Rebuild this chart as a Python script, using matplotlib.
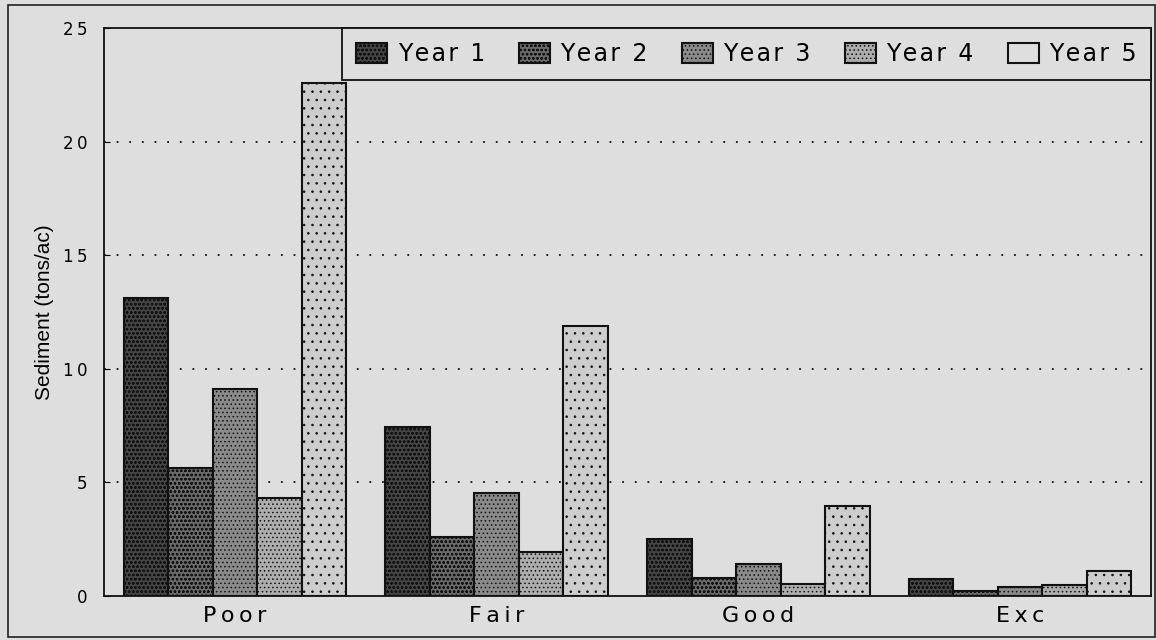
import matplotlib
matplotlib.use("Agg")
import matplotlib.pyplot as plt
import numpy as np
from matplotlib.patches import Rectangle

categories = ["Poor", "Fair", "Good", "Exc"]
series_names = ["Year 1", "Year 2", "Year 3", "Year 4", "Year 5"]
year1 = [13.1, 7.45, 2.5, 0.75]
year2 = [5.65, 2.6, 0.8, 0.2]
year3 = [9.1, 4.55, 1.4, 0.4]
year4 = [4.3, 1.95, 0.55, 0.5]
year5 = [22.6, 11.9, 3.95, 1.1]
series = [year1, year2, year3, year4, year5]
yticks = [0, 5, 10, 15, 20, 25]

faces = ["#454545", "#6a6a6a", "#8a8a8a", "#adadad", "#cdcdcd"]
hatches = ["oooo", "oooo", "....", "....", ".."]
bg = "#dedede"
TS = "\u2009"
HS = "\u200a"

plt.rcParams['hatch.color'] = '#e0e0e0'
plt.rcParams['hatch.linewidth'] = 0.6

fig = plt.figure(figsize=(11.56, 6.4), dpi=100, facecolor=bg)
ax = fig.add_axes([104/1156, 1 - 596/640, (1151-104)/1156, (596-28)/640])
ax.set_facecolor(bg)

x = np.arange(len(categories))
w = 0.17
for i, (vals, name) in enumerate(zip(series, series_names)):
    ax.bar(x + (i - 2) * w, vals, width=w, color=faces[i], edgecolor="#111111",
           linewidth=1.5, hatch=hatches[i], label=HS.join(name), zorder=3)

ax.set_xlim(-0.5, 3.5)
ax.set_ylim(0, 25)
ax.set_yticks(yticks)
ax.set_yticklabels([TS.join(str(t)) for t in yticks], fontsize=12)
ax.set_xticks(x)
ax.set_xticklabels([TS.join(c) for c in categories], fontsize=16)
ax.tick_params(axis='x', length=0, pad=7)
ax.tick_params(axis='y', direction='in', length=4, pad=12)
for yv in yticks[1:-1]:
    ax.axhline(yv, color="#111111", linestyle=(0, (1, 6)), linewidth=1.3, zorder=1)
for s in ax.spines.values():
    s.set_color("#111111")
    s.set_linewidth(1.3)
ax.set_ylabel("Sediment (tons/ac)", fontsize=15, family="Liberation Sans",
              labelpad=6)

leg = ax.legend(loc="upper right", ncol=5, fontsize=17, frameon=True,
                fancybox=False, edgecolor="#111111", facecolor=bg,
                handlelength=1.3, handleheight=0.95, handletextpad=0.45,
                columnspacing=1.45, borderaxespad=0.0, borderpad=0.6)
leg.get_frame().set_linewidth(1.3)
leg.get_frame().set_alpha(1)
h5 = leg.legend_handles[4]
h5.set_hatch(None)
h5.set_facecolor(bg)

fig.patches.append(Rectangle((8/1156, 0.005), 1 - 8/1156 - 0.001, 1 - 5/640 - 0.005,
                             transform=fig.transFigure, fill=False,
                             edgecolor="#222222", linewidth=1.2))

fig.savefig("out.png", dpi=100, facecolor=bg)
